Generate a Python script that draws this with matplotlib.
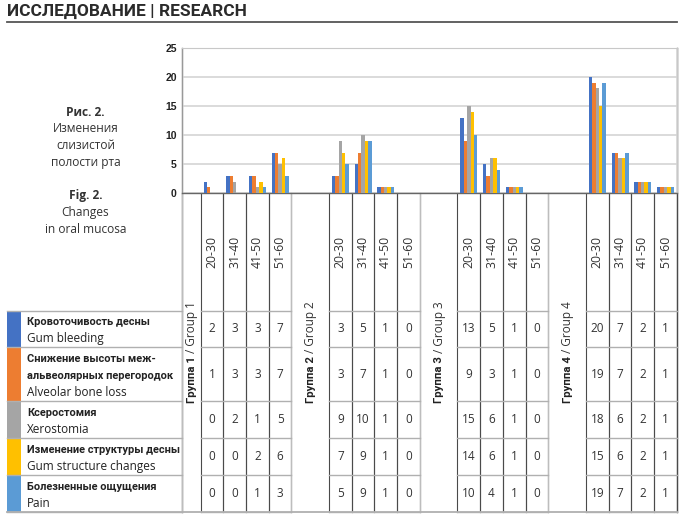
import numpy as np
import matplotlib.pyplot as plt

# data
ages = ['20-30', '31-40', '41-50', '51-60']
groups_ru = ['Группа 1', 'Группа 2', 'Группа 3', 'Группа 4']
groups_en = ['Group 1', 'Group 2', 'Group 3', 'Group 4']

symptom_ru = ['Кровоточивость десны', 'Снижение высоты меж-\nальвеолярных перегородок',
              'Ксеростомия', 'Изменение структуры десны', 'Болезненные ощущения']
symptom_en = ['Gum bleeding', 'Alveolar bone loss', 'Xerostomia',
              'Gum structure changes', 'Pain']

# values per symptom: group 1 ages, group 2 ages, group 3 ages, group 4 ages
gum_bleeding = [2, 3, 3, 7, 3, 5, 1, 0, 13, 5, 1, 0, 20, 7, 2, 1]
bone_loss = [1, 3, 3, 7, 3, 7, 1, 0, 9, 3, 1, 0, 19, 7, 2, 1]
xerostomia = [0, 2, 1, 5, 9, 10, 1, 0, 15, 6, 1, 0, 18, 6, 2, 1]
structure_changes = [0, 0, 2, 6, 7, 9, 1, 0, 14, 6, 1, 0, 15, 6, 2, 1]
pain = [0, 0, 1, 3, 5, 9, 1, 0, 10, 4, 1, 0, 19, 7, 2, 1]

series = [gum_bleeding, bone_loss, xerostomia, structure_changes, pain]
colors = ['#4472C4', '#ED7D31', '#A5A5A5', '#FFC000', '#5B9BD5']

caption = [('Рис. 2.', 'bold'), ('Изменения', 'normal'), ('слизистой', 'normal'),
           ('полости рта', 'normal'), (None, None), ('Fig. 2.', 'bold'),
           ('Changes', 'normal'), ('in oral mucosa', 'normal')]

# layout (pixels)
W, H = 685, 518
x0 = 181.7
label_w = [19, 37.5, 37.7, 37.7]
age_w = 22.7
y_top, y_zero = 47.6, 193.3
row_edges = [310.7, 347.3, 401, 438.3, 475, 512.3]
leg_left = 7.3
txt_font = 'Open Sans'
bold_font = 'Roboto'
dark = '#333333'

# column edges
label_cols = []
age_cols = []
x = x0
for g in range(4):
    label_cols.append((x, x + label_w[g]))
    x += label_w[g]
    for a in range(4):
        age_cols.append((x, x + age_w))
        x += age_w
x_right = x
age_centers = np.array([(a + b) / 2 for a, b in age_cols])

fig = plt.figure(figsize=(W / 100, H / 100), dpi=100)

ov = fig.add_axes([0, 0, 1, 1])
ov.set_xlim(0, W)
ov.set_ylim(H, 0)
ov.axis('off')

# header
ov.text(leg_left, 11.2, 'ИССЛЕДОВАНИЕ | RESEARCH', fontsize=12.5, fontweight='bold',
        family='Roboto', color='#2b2b2b', va='center', ha='left')
ov.plot([leg_left, x_right], [21.5, 21.5], color='#555555', lw=1.3)

# caption on the left
cy = 112.3
for txt, wt in caption:
    if txt is not None:
        ov.text(85.5, cy, txt, fontsize=8.6, fontweight=wt, family=txt_font,
                color=dark, ha='center', va='center')
    cy += 16.7

# chart
ax = fig.add_axes([x0 / W, 1 - y_zero / H, (x_right - x0) / W, (y_zero - y_top) / H])
ax.set_facecolor('none')
bw = 3.4
for k, vals in enumerate(series):
    ax.bar(age_centers + (k - 2) * bw, vals, width=bw, color=colors[k], zorder=3)
ax.set_xlim(x0, x_right)
ax.set_ylim(0, 25)
ax.set_yticks(range(0, 26, 5))
ax.set_xticks([])
ax.yaxis.grid(True, color='#d4d4d4', lw=1.2)
ax.set_axisbelow(True)
ax.tick_params(axis='y', length=0, pad=3.5, labelsize=7.5, colors='#222222')
for lab in ax.get_yticklabels():
    lab.set_fontweight('bold')
    lab.set_family('Liberation Sans')
for s in ['top', 'right']:
    ax.spines[s].set_color('#c8c8c8')
ax.spines['left'].set_color('#999999')
ax.spines['bottom'].set_color('#666666')
ax.spines['bottom'].set_linewidth(1.0)

# table lines
y_bot = row_edges[-1]
ov.plot([x0, x0], [y_top, y_bot], color='#888888', lw=1)
ov.plot([x_right, x_right], [y_top, y_bot], color='#555555', lw=1)
for a, b in age_cols:
    for xe in (a, b):
        ov.plot([xe, xe], [y_zero, y_bot], color='#4a4a4a', lw=0.8)
for a, b in label_cols:
    ov.plot([a, a], [y_zero, y_bot], color='#bdbdbd', lw=1)
for ye in row_edges:
    ov.plot([leg_left, x0], [ye, ye], color='#b0b0b0', lw=1)
    for g in range(4):
        a = age_cols[g * 4][0]
        b = age_cols[g * 4 + 3][1]
        ov.plot([a, b], [ye, ye], color='#b0b0b0', lw=1)
ov.plot([leg_left, x_right], [y_bot, y_bot], color='#b0b0b0', lw=1.3)

# legend swatches and labels
for r in range(5):
    top, bot = row_edges[r], row_edges[r + 1]
    ov.add_patch(plt.Rectangle((leg_left, top + 0.5), 13.4, bot - top - 1,
                               color=colors[r], lw=0))
    lines = [(t, 'bold', bold_font, 7.9) for t in symptom_ru[r].split('\n')]
    lines.append((symptom_en[r], 'normal', txt_font, 8.5))
    mid = (top + bot) / 2 + 1.5
    n = len(lines)
    for i, (t, wt, fam, fs) in enumerate(lines):
        ov.text(27, mid + (i - (n - 1) / 2) * 16.6, t, fontsize=fs, fontweight=wt,
                family=fam, color='#222222', ha='left', va='center')
    for c, cx in enumerate(age_centers):
        ov.text(cx, (top + bot) / 2, str(series[r][c]), fontsize=8.5, family=txt_font,
                color=dark, ha='center', va='center')

# age labels
for c, cx in enumerate(age_centers):
    ov.text(cx, 252, ages[c % 4], rotation=90, fontsize=8.8, family=txt_font,
            color=dark, ha='center', va='center')

# group labels
for g, (a, b) in enumerate(label_cols):
    t = ov.text((a + b) / 2 + 0.5, 403.3, groups_ru[g], rotation=90, fontsize=8.2,
                fontweight='bold', family=bold_font, color='#222222', ha='center', va='bottom')
    ov.annotate(' / ' + groups_en[g], xy=(0.5, 1.0), xycoords=t, rotation=90,
                fontsize=8.5, family=txt_font, color=dark, ha='center', va='bottom')

fig.savefig('out.png', dpi=100)
